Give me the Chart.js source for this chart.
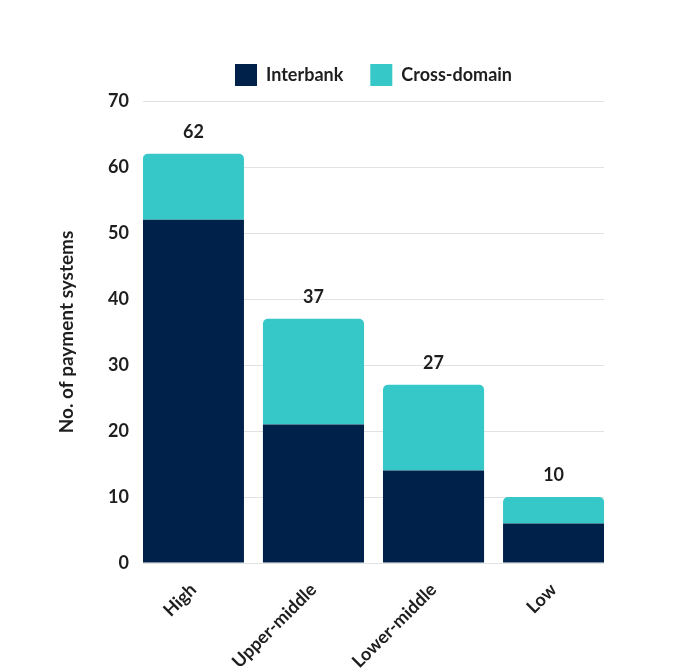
<!DOCTYPE html>
<html>
<head>
<meta charset="utf-8">
<script src="https://cdn.jsdelivr.net/npm/chart.js@4"></script>
<style>
  html, body { margin: 0; padding: 0; background: #ffffff; }
  #wrap { width: 680px; height: 670px; position: relative; }
</style>
</head>
<body>
<div id="wrap"><canvas id="c" width="680" height="670"></canvas></div>
<script>
const categories = ["High", "Upper-middle", "Lower-middle", "Low"];
const interbank = [52, 21, 14, 6];
const crossDomain = [10, 16, 13, 4];
const yTicks = [0, 10, 20, 30, 40, 50, 60, 70];

const NAVY = "#00214a";
const TEAL = "#36c8c8";
const TEXT = "#1e1e1e";
const FONT = "Lato, 'Open Sans', sans-serif";

const totalsPlugin = {
  id: "totals",
  beforeLayout(chart) {
    const lg = chart.legend;
    if (lg && !lg._extraGap) {
      const orig = lg.fit.bind(lg);
      lg.fit = function () { orig(); this.height += 5; };
      lg._extraGap = true;
    }
  },
  afterDatasetsDraw(chart) {
    const { ctx, scales } = chart;
    ctx.save();
    ctx.font = "bold 18px " + FONT;
    ctx.fillStyle = TEXT;
    ctx.textAlign = "center";
    ctx.textBaseline = "middle";
    categories.forEach((c, i) => {
      const total = interbank[i] + crossDomain[i];
      const x = scales.x.getPixelForValue(i);
      const y = scales.y.getPixelForValue(total) - 22;
      ctx.fillText(String(total), x, y);
    });
    ctx.restore();
  }
};

new Chart(document.getElementById("c"), {
  type: "bar",
  data: {
    labels: categories.map((_, i) => i),
    datasets: [
      {
        label: "Interbank",
        data: interbank,
        backgroundColor: NAVY,
        borderWidth: 0,
        borderRadius: 0,
        stack: "s"
      },
      {
        label: "Cross-domain",
        data: crossDomain,
        backgroundColor: TEAL,
        borderWidth: 0,
        borderRadius: { topLeft: 5, topRight: 5, bottomLeft: 0, bottomRight: 0 },
        borderSkipped: false,
        stack: "s"
      }
    ]
  },
  options: {
    responsive: false,
    animation: false,
    devicePixelRatio: 1,
    categoryPercentage: 1,
    barPercentage: 0.842,
    layout: { padding: { top: 37, left: 53, right: 76, bottom: 0 } },
    plugins: {
      legend: {
        position: "top",
        fullSize: false,
        labels: {
          font: { family: FONT, size: 18, weight: "bold" },
          color: TEXT,
          boxWidth: 22,
          boxHeight: 22,
          padding: 27
        }
      },
      tooltip: { enabled: false },
      title: { display: false }
    },
    scales: {
      x: {
        type: "linear",
        offset: false,
        min: -0.42,
        max: 3.42,
        stacked: true,
        grid: { display: false },
        border: { display: false },
        afterFit: (scale) => { scale.height = 107; },
        ticks: {
          stepSize: 1,
          includeBounds: false,
          autoSkip: false,
          maxRotation: 45,
          minRotation: 45,
          padding: 8,
          color: TEXT,
          font: { family: FONT, size: 18, weight: "bold" },
          callback: (v) => Number.isInteger(v) && categories[v] !== undefined ? categories[v] : ""
        }
      },
      y: {
        stacked: true,
        min: 0,
        max: 70,
        afterFit: (scale) => { scale.width = 90; },
        afterBuildTicks: (scale) => { scale.ticks = yTicks.map(v => ({ value: v })); },
        grid: { color: "#e2e2e2", lineWidth: 1, drawTicks: false },
        border: { display: false },
        ticks: {
          padding: 14,
          color: TEXT,
          font: { family: FONT, size: 18, weight: "bold" }
        },
        title: {
          display: true,
          text: "No. of payment systems",
          color: TEXT,
          font: { family: FONT, size: 19, weight: "bold" },
          padding: { top: 2, bottom: 4 }
        }
      }
    }
  },
  plugins: [totalsPlugin]
});
</script>
</body>
</html>
